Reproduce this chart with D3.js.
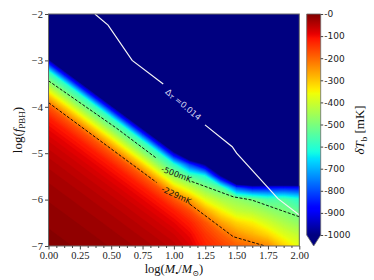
<!DOCTYPE html>
<html>
<head>
<meta charset="utf-8">
<script src="https://cdn.jsdelivr.net/npm/d3@7/dist/d3.min.js"></script>
<style>
  html, body { margin: 0; padding: 0; background: #fff; }
  svg { display: block; }
</style>
</head>
<body>
<div id="chart"></div>
<script>
// grid of the map: log10 of PBH mass (columns) and log10 f_PBH (rows, top to bottom)
var logMass = [0, 0.125, 0.25, 0.375, 0.5, 0.625, 0.75, 0.875, 1, 1.125, 1.25, 1.375, 1.5, 1.625, 1.75, 1.875, 2];
var logFpbh = [-2, -2.25, -2.5, -2.75, -3, -3.25, -3.5, -3.75, -4, -4.25, -4.5, -4.75, -5, -5.25, -5.5, -5.75, -6, -6.25, -6.5, -6.75, -7];

// dT_b in mK, one array per mass column, read from log f = -2 down to -7
// (values below -1000 fall in the saturated dark blue part)
var dTbColumns = [
	[-2500,-2200,-1900,-1550,-955,-590,-465,-310,-180,-118,-90,-70,-55,-43,-34,-27,-21,-16,-12,-8,-5],
	[-2500,-2500,-2200,-1900,-1550,-955,-590,-465,-310,-180,-118,-90,-70,-55,-43,-34,-27,-21,-16,-12,-8],
	[-2500,-2500,-2500,-2200,-1900,-1550,-955,-590,-465,-310,-180,-118,-90,-70,-55,-43,-34,-27,-21,-16,-12],
	[-2500,-2500,-2500,-2500,-2200,-1900,-1550,-955,-590,-465,-310,-180,-118,-90,-70,-55,-43,-34,-27,-21,-16],
	[-2500,-2500,-2500,-2500,-2500,-2200,-1900,-1550,-955,-590,-465,-310,-180,-118,-90,-70,-55,-43,-34,-27,-21],
	[-2500,-2500,-2500,-2500,-2500,-2500,-2200,-1900,-1550,-955,-590,-465,-310,-180,-118,-90,-70,-55,-43,-34,-27],
	[-2500,-2500,-2500,-2500,-2500,-2500,-2500,-2200,-1900,-1550,-955,-590,-465,-310,-180,-118,-90,-70,-55,-43,-34],
	[-2500,-2500,-2500,-2500,-2500,-2500,-2500,-2500,-2200,-1900,-1550,-955,-590,-465,-310,-180,-118,-90,-70,-55,-43],
	[-2500,-2500,-2500,-2500,-2500,-2500,-2500,-2500,-2500,-2200,-1900,-1550,-955,-590,-465,-310,-180,-118,-90,-70,-55],
	[-2500,-2500,-2500,-2500,-2500,-2500,-2500,-2500,-2500,-2380,-2080,-1760,-1312,-809,-540,-403,-262,-170,-122,-95,-78],
	[-2500,-2500,-2500,-2500,-2500,-2500,-2500,-2500,-2500,-2500,-2250,-1950,-1600,-1000,-610,-485,-375,-265,-180,-145,-125],
	[-2500,-2500,-2500,-2500,-2500,-2500,-2500,-2500,-2500,-2500,-2500,-2250,-1950,-1550,-980,-545,-440,-345,-260,-190,-155],
	[-2500,-2500,-2500,-2500,-2500,-2500,-2500,-2500,-2500,-2500,-2500,-2500,-2150,-1850,-1480,-800,-470,-410,-316,-245,-190],
	[-2500,-2500,-2500,-2500,-2500,-2500,-2500,-2500,-2500,-2500,-2500,-2500,-2200,-1900,-1500,-880,-505,-430,-345,-280,-210],
	[-2500,-2500,-2500,-2500,-2500,-2500,-2500,-2500,-2500,-2500,-2500,-2500,-2200,-1900,-1500,-870,-560,-465,-395,-320,-235],
	[-2500,-2500,-2500,-2500,-2500,-2500,-2500,-2500,-2500,-2500,-2500,-2500,-2200,-1900,-1550,-860,-550,-495,-440,-380,-310],
	[-2500,-2500,-2500,-2500,-2500,-2500,-2500,-2500,-2500,-2500,-2500,-2500,-2200,-1900,-1550,-870,-600,-530,-475,-420,-370]
];

// Delta tau = 0.014 line (white), split where its label sits
var tauLineA = [[0.37, -2.0], [0.475, -2.24], [0.667, -3.0], [0.915, -3.51]];
var tauLineB = [[1.248, -4.39], [1.465, -4.86], [1.5, -5.0], [1.83, -5.98], [2.0, -6.33]];

// dashed dT_b contours
var c500A = [[0, -3.44], [0.542, -4.46], [0.862, -5.11]];
var c500B = [[1.142, -5.61], [1.474, -5.94], [1.622, -6.01], [2.0, -6.37]];
var c229A = [[0, -3.91], [0.862, -5.63]];
var c229B = [[1.128, -6.10], [1.474, -6.80], [1.728, -7.0]];

// inline labels: text, logM, logf
var lineLabels = [
	{ text: '-500mK', m: 1.02, f: -5.45, angle: 21 },
	{ text: '-229mK', m: 1.02, f: -5.90, angle: 25 }
];
var tauLabel = { m: 1.075, f: -3.95, angle: 40 };

var xTicks = [0, 0.25, 0.5, 0.75, 1, 1.25, 1.5, 1.75, 2];
var xTickLabels = ['0.00', '0.25', '0.50', '0.75', '1.00', '1.25', '1.50', '1.75', '2.00'];
var yTicks = [-2, -3, -4, -5, -6, -7];
var yTickLabels = ['\u22122', '\u22123', '\u22124', '\u22125', '\u22126', '\u22127'];
var cbTicks = [0, -100, -200, -300, -400, -500, -600, -700, -800, -900, -1000];
var cbTickLabels = ['-0', '-100', '-200', '-300', '-400', '-500', '-600', '-700', '-800', '-900', '-1000'];

var CB_MIN = -1000, CB_MAX = 0, LEVEL_STEP = 10;
var SERIF = "'Liberation Serif', 'DejaVu Serif', serif";
var SANS = "'DejaVu Sans', sans-serif";

// matplotlib jet
var jetR = d3.scaleLinear().domain([0, 0.35, 0.66, 0.89, 1]).range([0, 0, 1, 1, 0.5]).clamp(true);
var jetG = d3.scaleLinear().domain([0, 0.125, 0.375, 0.64, 0.91, 1]).range([0, 0, 1, 1, 0, 0]).clamp(true);
var jetB = d3.scaleLinear().domain([0, 0.11, 0.34, 0.65, 1]).range([0.5, 1, 1, 0, 0]).clamp(true);
function jet(t) {
	return d3.rgb(jetR(t) * 255, jetG(t) * 255, jetB(t) * 255).formatHex();
}
function color(v) {
	return jet((v - CB_MIN) / (CB_MAX - CB_MIN));
}

(function () {
	drawChart();
})();

function drawChart() {
	var width = 374, height = 280,
		plot = { left: 48.5, right: 299.3, top: 14, bottom: 246 },
		cb = { left: 306.7, width: 14, top: 14, bottom: 235, tip: 246 };

	var svg = d3.select('#chart').append('svg')
		.attr('width', width)
		.attr('height', height);

	var x = d3.scaleLinear().domain([0, 2]).range([plot.left, plot.right]),
		y = d3.scaleLinear().domain([-7, -2]).range([plot.bottom, plot.top]);

	var defs = svg.append('defs');
	defs.append('clipPath').attr('id', 'plotClip')
		.append('rect')
		.attr('x', plot.left).attr('y', plot.top)
		.attr('width', plot.right - plot.left).attr('height', plot.bottom - plot.top);

	// field: filled contours of the grid
	var nx = logMass.length, ny = logFpbh.length;
	var values = new Array(nx * ny);
	for (var j = 0; j < ny; j++) {
		for (var i = 0; i < nx; i++) {
			values[j * nx + i] = dTbColumns[i][j];
		}
	}
	var gx = d3.scaleLinear().domain([0.5, nx - 0.5]).range([x(logMass[0]), x(logMass[nx - 1])]),
		gy = d3.scaleLinear().domain([0.5, ny - 0.5]).range([y(logFpbh[0]), y(logFpbh[ny - 1])]);
	var gridPath = d3.geoPath(d3.geoTransform({
		point: function (px, py) { this.stream.point(gx(px), gy(py)); }
	}));
	var levels = d3.range(CB_MIN, CB_MAX, LEVEL_STEP);
	var bands = d3.contours().size([nx, ny]).thresholds(levels)(values);

	var field = svg.append('g').attr('clip-path', 'url(#plotClip)');
	field.append('rect')
		.attr('x', plot.left).attr('y', plot.top)
		.attr('width', plot.right - plot.left).attr('height', plot.bottom - plot.top)
		.attr('fill', jet(0));
	field.selectAll('path.band')
		.data(bands)
		.join('path')
		.attr('class', 'band')
		.attr('d', gridPath)
		.attr('fill', function (d) { return color(d.value + LEVEL_STEP / 2); })
		.attr('stroke', function (d) { return color(d.value + LEVEL_STEP / 2); })
		.attr('stroke-width', 0.4);

	// lines
	var line = d3.line()
		.x(function (d) { return x(d[0]); })
		.y(function (d) { return y(d[1]); });

	var lines = svg.append('g').attr('clip-path', 'url(#plotClip)');
	[tauLineA, tauLineB].forEach(function (pts) {
		lines.append('path')
			.datum(pts)
			.attr('d', line)
			.attr('fill', 'none')
			.attr('stroke', '#f4f4f4')
			.attr('stroke-width', 1.2);
	});
	[c500A, c500B, c229A, c229B].forEach(function (pts) {
		lines.append('path')
			.datum(pts)
			.attr('d', line)
			.attr('fill', 'none')
			.attr('stroke', '#000')
			.attr('stroke-width', 0.9)
			.attr('stroke-dasharray', '3,1.6');
	});

	// line labels
	lineLabels.forEach(function (lab) {
		svg.append('text')
			.attr('transform', 'translate(' + x(lab.m) + ',' + y(lab.f) + ') rotate(' + lab.angle + ')')
			.attr('text-anchor', 'middle')
			.attr('dominant-baseline', 'central')
			.attr('font-family', SANS)
			.attr('font-size', 8.2)
			.attr('fill', '#111')
			.text(lab.text);
	});
	var tau = svg.append('text')
		.attr('transform', 'translate(' + x(tauLabel.m) + ',' + y(tauLabel.f) + ') rotate(' + tauLabel.angle + ')')
		.attr('text-anchor', 'middle')
		.attr('dominant-baseline', 'central')
		.attr('font-family', SANS)
		.attr('font-size', 8.4)
		.attr('fill', '#d6d6f2');
	tau.append('tspan').text('\u0394');
	tau.append('tspan').attr('font-size', 6.8).attr('font-style', 'italic').attr('dy', 1.8).text('\u03c4');
	tau.append('tspan').attr('dy', -1.8).text(' =0.014');

	// frame
	svg.append('rect')
		.attr('x', plot.left).attr('y', plot.top)
		.attr('width', plot.right - plot.left).attr('height', plot.bottom - plot.top)
		.attr('fill', 'none')
		.attr('stroke', '#6a6a6a')
		.attr('stroke-width', 1);

	// axes
	var xAxis = svg.append('g')
		.attr('transform', 'translate(0,' + plot.bottom + ')')
		.call(d3.axisBottom(x).tickValues(xTicks)
			.tickFormat(function (d, i) { return xTickLabels[i]; })
			.tickSize(3.5).tickPadding(2.5));
	svg.append('g')
		.attr('transform', 'translate(0,' + plot.bottom + ')')
		.call(d3.axisBottom(x).tickValues(d3.range(0, 2.0001, 0.0625).filter(function (v) { return xTicks.indexOf(v) < 0; }))
			.tickFormat('').tickSize(2))
		.call(function (g) { g.select('.domain').remove(); g.selectAll('line').attr('stroke', '#444'); });

	var yAxis = svg.append('g')
		.attr('transform', 'translate(' + plot.left + ',0)')
		.call(d3.axisLeft(y).tickValues(yTicks)
			.tickFormat(function (d, i) { return yTickLabels[i]; })
			.tickSize(3.5).tickPadding(2));

	[xAxis, yAxis].forEach(function (g) {
		g.select('.domain').remove();
		g.selectAll('line').attr('stroke', '#444');
		g.attr('font-family', SERIF).attr('font-size', 10.5);
		g.selectAll('text').attr('fill', '#222');
	});

	// axis titles
	var xt = svg.append('text')
		.attr('x', (plot.left + plot.right) / 2)
		.attr('y', 273)
		.attr('text-anchor', 'middle')
		.attr('font-family', SERIF)
		.attr('font-size', 12.5)
		.attr('fill', '#111');
	xt.append('tspan').text('log(');
	xt.append('tspan').attr('font-style', 'italic').text('M');
	xt.append('tspan').attr('font-size', 9).attr('dy', 2.5).text('\u2022');
	xt.append('tspan').attr('dy', -2.5).text('/');
	xt.append('tspan').attr('font-style', 'italic').text('M');
	xt.append('tspan').attr('font-size', 8).attr('dy', 2.5).text('\u2299');
	xt.append('tspan').attr('dy', -2.5).text(')');

	var yt = svg.append('text')
		.attr('transform', 'translate(22,' + (plot.top + plot.bottom) / 2 + ') rotate(-90)')
		.attr('text-anchor', 'middle')
		.attr('font-family', SERIF)
		.attr('font-size', 13)
		.attr('fill', '#111');
	yt.append('tspan').text('log(');
	yt.append('tspan').attr('font-style', 'italic').text('f');
	yt.append('tspan').attr('font-size', 9).attr('dy', 3).text('PBH');
	yt.append('tspan').attr('dy', -3).text(')');

	// colorbar
	var cbScale = d3.scaleLinear().domain([CB_MIN, CB_MAX]).range([cb.bottom, cb.top]);
	var grad = defs.append('linearGradient').attr('id', 'cbGrad')
		.attr('x1', 0).attr('y1', 1).attr('x2', 0).attr('y2', 0);
	d3.range(0, 1.0001, 0.01).forEach(function (t) {
		grad.append('stop').attr('offset', t).attr('stop-color', jet(t));
	});
	svg.append('rect')
		.attr('x', cb.left).attr('y', cb.top)
		.attr('width', cb.width).attr('height', cb.bottom - cb.top)
		.attr('fill', 'url(#cbGrad)');
	svg.append('path')
		.attr('d', 'M' + cb.left + ',' + cb.bottom + 'L' + (cb.left + cb.width) + ',' + cb.bottom +
			'L' + (cb.left + cb.width / 2) + ',' + cb.tip + 'Z')
		.attr('fill', jet(0));
	svg.append('path')
		.attr('d', 'M' + cb.left + ',' + cb.top + 'L' + (cb.left + cb.width) + ',' + cb.top +
			'L' + (cb.left + cb.width) + ',' + cb.bottom + 'L' + (cb.left + cb.width / 2) + ',' + cb.tip +
			'L' + cb.left + ',' + cb.bottom + 'Z')
		.attr('fill', 'none')
		.attr('stroke', '#6a6a6a')
		.attr('stroke-width', 0.8);

	var cbAxis = svg.append('g')
		.attr('transform', 'translate(' + (cb.left + cb.width) + ',0)')
		.call(d3.axisRight(cbScale).tickValues(cbTicks)
			.tickFormat(function (d, i) { return cbTickLabels[i]; })
			.tickSize(2.5).tickPadding(1));
	cbAxis.select('.domain').remove();
	cbAxis.selectAll('line').attr('stroke', '#444');
	cbAxis.attr('font-family', SANS).attr('font-size', 9);
	cbAxis.selectAll('text').attr('fill', '#222');

	var ct = svg.append('text')
		.attr('transform', 'translate(364,' + (cb.top + cb.tip) / 2 + ') rotate(-90)')
		.attr('text-anchor', 'middle')
		.attr('font-family', SERIF)
		.attr('font-size', 13)
		.attr('fill', '#111');
	ct.append('tspan').attr('font-style', 'italic').text('\u03b4T');
	ct.append('tspan').attr('font-size', 9).attr('dy', 3).text('b');
	ct.append('tspan').attr('dy', -3).text(' [mK]');
}
</script>
</body>
</html>
